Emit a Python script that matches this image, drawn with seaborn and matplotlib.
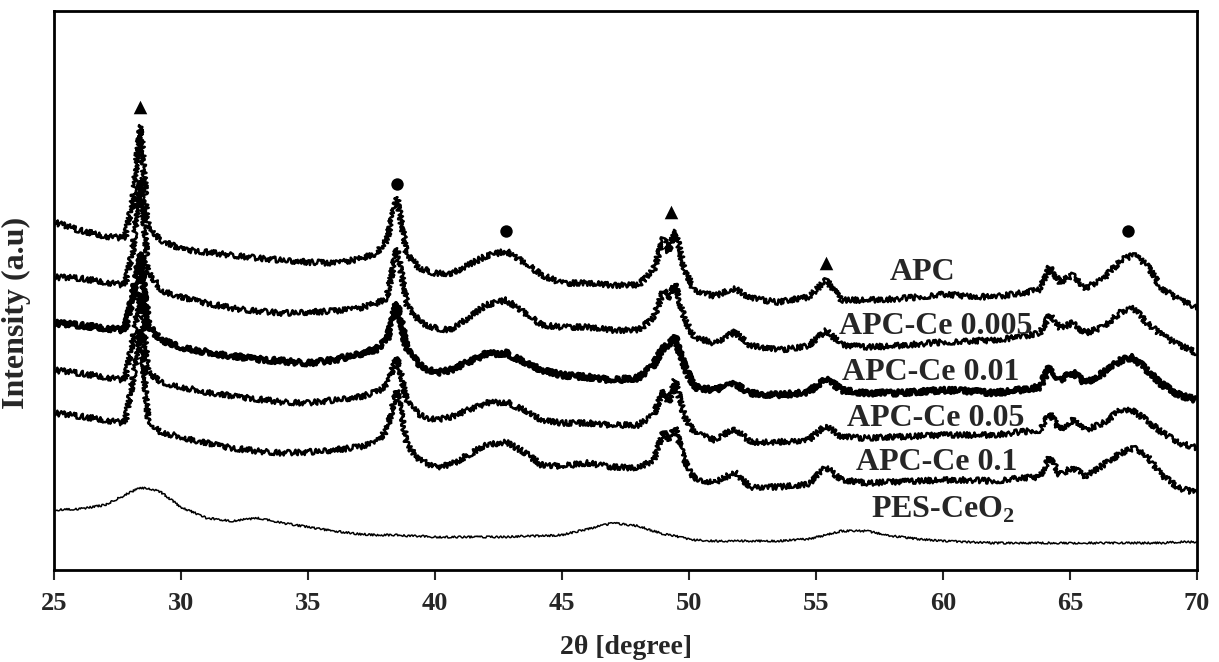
import pandas as pd
import matplotlib
matplotlib.use("Agg")
import matplotlib.pyplot as plt
import seaborn as sns

# 2-theta sample points (degree)
two_theta = [25, 26, 27, 27.8, 28.1, 28.4, 28.7, 29.2,
             30, 31, 32, 33, 34, 35, 36, 37,
             37.7, 38.1, 38.5, 38.9, 39.4, 40, 40.6, 41.3,
             42, 42.8, 43.5, 44.2, 45, 46, 47, 48,
             48.6, 49.0, 49.2, 49.45, 49.8, 50.2, 51, 51.8,
             52.4, 53.5, 54.7, 55.4, 56, 57, 58, 59,
             60, 61, 62, 63, 63.8, 64.2, 64.6, 65.1,
             65.6, 66.3, 67.0, 67.5, 68.0, 68.6, 69.3, 70]

# stacked intensities (a.u.)
apc = [348, 340, 334, 332, 370, 445, 345, 330,
       321, 318, 315, 312, 310, 308, 307, 311,
       317, 330, 373, 315, 302, 297, 296, 305,
       314, 319, 308, 295, 287, 287, 285, 285,
       300, 332, 318, 340, 302, 280, 274, 282,
       272, 268, 273, 290, 270, 270, 271, 273,
       276, 274, 273, 277, 280, 303, 288, 295,
       282, 291, 310, 315, 306, 282, 270, 263]

apc_ce_0005 = [293, 292, 288, 285, 320, 392, 300, 280,
               273, 267, 262, 259, 257, 258, 259, 262,
               267, 272, 322, 265, 248, 242, 240, 252,
               265, 270, 258, 245, 243, 243, 240, 240,
               252, 280, 270, 287, 252, 233, 227, 238,
               225, 220, 224, 240, 225, 223, 224, 226,
               228, 229, 230, 233, 237, 255, 242, 247,
               237, 243, 258, 262, 248, 235, 225, 217]

apc_ce_001 = [247, 245, 242, 240, 275, 317, 245, 230,
              223, 218, 214, 211, 209, 207, 210, 216,
              221, 230, 267, 220, 205, 197, 200, 208,
              216, 217, 208, 200, 195, 193, 190, 192,
              205, 223, 225, 233, 205, 183, 180, 186,
              177, 175, 178, 192, 180, 177, 177, 178,
              180, 179, 177, 180, 183, 203, 190, 198,
              187, 197, 210, 213, 200, 186, 175, 170]

apc_ce_005 = [200, 197, 193, 190, 230, 277, 198, 188,
              183, 178, 174, 171, 168, 167, 170, 173,
              178, 185, 213, 168, 155, 150, 153, 160,
              167, 168, 160, 150, 147, 147, 145, 145,
              155, 180, 167, 190, 155, 137, 130, 142,
              128, 128, 130, 145, 133, 132, 133, 134,
              135, 135, 135, 138, 140, 157, 140, 150,
              140, 147, 160, 159, 150, 138, 127, 122]

apc_ce_01 = [157, 154, 150, 147, 190, 240, 150, 138,
             133, 127, 122, 119, 117, 118, 120, 123,
             128, 140, 180, 125, 110, 103, 105, 115,
             125, 128, 118, 105, 104, 107, 103, 102,
             110, 138, 130, 143, 110, 92, 87, 98,
             83, 83, 86, 103, 90, 87, 88, 89,
             90, 90, 89, 92, 93, 113, 95, 103,
             93, 105, 117, 122, 115, 95, 82, 77]

pes_ceo2 = [60, 61, 65, 75, 79, 82, 82, 78,
            63, 52, 49, 52, 47, 43, 39, 36,
            35, 35, 35, 34, 34, 33, 33, 33,
            33, 33, 34, 34, 35, 41, 47, 44,
            39, 36, 35, 34, 32, 30, 29, 29,
            29, 29, 31, 35, 39, 39, 34, 31,
            29, 28, 27, 27, 27, 27, 27, 27,
            27, 27, 27, 27, 27, 27, 28, 28]

samples = ["APC", "APC-Ce 0.005", "APC-Ce 0.01", "APC-Ce 0.05", "APC-Ce 0.1", "PES-CeO2"]
series = [apc, apc_ce_0005, apc_ce_001, apc_ce_005, apc_ce_01, pes_ceo2]
label_text = ["APC", "APC-Ce 0.005", "APC-Ce 0.01", "APC-Ce 0.05", "APC-Ce 0.1",
              r"PES-CeO$_{\mathrm{2}}$"]
label_x = [59.2, 59.7, 59.5, 59.7, 59.75, 60.0]
label_y = [298, 244, 198, 152, 108, 60]

# phase markers
tri_x = [28.4, 49.3, 55.4]
tri_y = [463, 358, 307]
dot_x = [38.5, 42.8, 67.3]
dot_y = [386, 339, 339]

frames = []
for name, vals in zip(samples, series):
    frames.append(pd.DataFrame({"two_theta": two_theta, "intensity": vals, "sample": name}))
df = pd.concat(frames, ignore_index=True)

sns.set_style("ticks")
plt.rcParams["font.family"] = ["Liberation Serif", "DejaVu Serif"]
plt.rcParams["font.weight"] = "bold"
plt.rcParams["mathtext.fontset"] = "custom"
plt.rcParams["mathtext.rm"] = "Liberation Serif:bold"
plt.rcParams["mathtext.bf"] = "Liberation Serif:bold"

fig = plt.figure(figsize=(12.19, 6.62), dpi=100)
ax = fig.add_axes([0.0443, 0.139, 0.9377, 0.844])

widths = {"APC": 1.8, "APC-Ce 0.005": 1.8, "APC-Ce 0.01": 2.8,
          "APC-Ce 0.05": 1.8, "APC-Ce 0.1": 1.8, "PES-CeO2": 1.1}
for name in samples:
    sub = df[df["sample"] == name]
    sns.lineplot(data=sub, x="two_theta", y="intensity", ax=ax, color="black",
                 lw=widths[name], sort=False, estimator=None)
    line = ax.lines[-1]
    if name == "PES-CeO2":
        line.set_sketch_params(scale=1.0, length=1.5, randomness=4)
    else:
        line.set_sketch_params(scale=2.8, length=1.2, randomness=5)

sns.scatterplot(x=tri_x, y=tri_y, ax=ax, marker="^", color="black", s=95, linewidth=0)
sns.scatterplot(x=dot_x, y=dot_y, ax=ax, marker="o", color="black", s=80, linewidth=0)

for txt, lx, ly in zip(label_text, label_x, label_y):
    ax.text(lx, ly, txt, ha="center", va="center", fontsize=23, fontweight="bold")

ax.set_xlim(25, 70)
ax.set_ylim(0, 559)
ax.set_xticks(range(25, 71, 5))
ax.set_yticks([])
ax.tick_params(axis="x", direction="out", length=7, width=1.5, labelsize=19, pad=9)
for lbl in ax.get_xticklabels():
    lbl.set_fontweight("bold")
for sp in ax.spines.values():
    sp.set_linewidth(2)
    sp.set_color("black")

ax.set_xlabel("2θ [degree]", fontsize=20, fontweight="bold", labelpad=14)
ax.set_ylabel("Intensity (a.u)", fontsize=23, fontweight="bold")
ax.yaxis.set_label_coords(-0.02, 0.46)

fig.savefig("out.png", dpi=100)
